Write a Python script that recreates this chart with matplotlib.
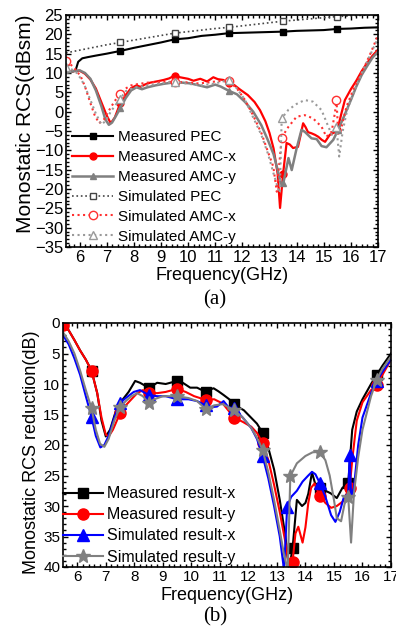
import numpy as np
import matplotlib
matplotlib.use('Agg')
import matplotlib.pyplot as plt
from matplotlib.ticker import MultipleLocator

plt.rcParams['font.family'] = ['Liberation Sans', 'DejaVu Sans']

# ---- DATA: (a) monostatic RCS (dBsm) ----
pec_meas_f = [5.5, 5.7, 5.85, 5.95, 6.1, 6.3, 6.6, 7.0, 7.5, 8.0, 8.5, 9.0, 9.5, 10.0, 10.5,
              11.0, 11.5, 12.0, 12.5, 13.0, 13.5, 14.0, 14.5, 15.0, 15.5, 16.0, 16.5, 17.0]
pec_meas_v = [10.2, 10.3, 10.6, 12.9, 13.8, 14.1, 14.5, 15.0, 15.7, 16.5, 17.2, 17.9, 18.7, 19.0, 19.6,
              19.9, 20.3, 20.4, 20.5, 20.6, 20.7, 20.9, 21.0, 21.1, 21.4, 21.5, 21.7, 21.8]
pec_meas_mk = [7.5, 9.5, 11.5, 13.5, 15.5]

amcx_meas_f = [5.5, 5.8, 6.0, 6.2, 6.4, 6.6, 6.8, 7.0, 7.15, 7.3, 7.5, 7.7, 7.9, 8.1, 8.25, 8.4, 8.6,
               8.9, 9.1, 9.3, 9.5, 9.7, 10.0, 10.2, 10.45, 10.7, 10.93, 11.1, 11.3, 11.5, 11.7, 11.9,
               12.2, 12.45, 12.65, 12.85, 13.0, 13.15, 13.3, 13.39, 13.5, 13.63, 13.75, 13.87, 14.05,
               14.15, 14.24, 14.33, 14.42, 14.55, 14.68, 14.8, 14.93, 15.05, 15.22, 15.35, 15.5, 15.65,
               15.78, 16.0, 16.2, 16.4, 16.6, 16.8, 17.0]
amcx_meas_v = [10.2, 10.5, 10.6, 9.8, 8.3, 6.0, 2.5, -1.0, -3.0, -1.5, 2.2, 4.3, 6.1, 6.8, 6.4, 7.0, 7.5,
               7.9, 8.2, 8.6, 9.3, 8.9, 8.5, 8.0, 8.5, 7.8, 8.9, 8.4, 8.2, 7.4, 6.9, 5.8,
               4.3, 2.5, 0.4, -2.5, -5.5, -9.5, -16.0, -24.9, -16.2, -8.1, -8.5, -9.4, -9.1,
               -6.0, -3.0, -4.0, -5.3, -5.6, -6.0, -6.5, -7.3, -7.8, -6.0, -5.5, -4.8, -0.5,
               3.0, 5.8, 8.0, 10.5, 12.6, 14.5, 16.0]
amcx_meas_mk = [7.5, 9.5, 11.5, 13.5, 15.5]

amcy_meas_f = [5.5, 5.8, 6.0, 6.2, 6.4, 6.6, 6.8, 6.95, 7.08, 7.2, 7.35, 7.5, 7.7, 7.9, 8.1, 8.3, 8.5,
               8.8, 9.1, 9.5, 9.8, 10.1, 10.4, 10.7, 11.0, 11.2, 11.5, 11.8, 12.1, 12.4, 12.7, 12.95,
               13.15, 13.3, 13.43, 13.51, 13.7, 13.82, 14.0, 14.18, 14.3, 14.55, 14.74, 14.92, 15.1,
               15.35, 15.53, 15.7, 15.85, 16.0, 16.2, 16.4, 16.6, 16.8, 17.0]
amcy_meas_v = [10.0, 10.5, 10.7, 10.0, 8.5, 5.5, 1.5, -2.0, -3.4, -2.8, -1.0, 0.9, 3.5, 5.5, 6.3, 5.8, 6.3,
               6.8, 7.2, 7.6, 7.5, 7.3, 6.8, 6.3, 7.0, 6.5, 5.4, 4.5, 2.5, 0.0, -3.5, -7.5,
               -11.0, -15.0, -19.0, -18.5, -12.0, -15.1, -9.5, -4.7, -5.2, -6.9, -7.1, -8.9, -9.2,
               -7.3, -4.7, -2.0, 0.5, 3.0, 6.5, 9.5, 11.8, 14.0, 15.5]
amcy_meas_mk = [7.5, 11.5, 13.51, 15.53]

pec_sim_f = [5.5, 6.0, 6.5, 7.0, 7.5, 8.0, 8.5, 9.0, 9.5, 10.0, 10.5, 11.0, 11.5, 12.0, 12.5, 13.0,
             13.5, 14.0, 14.5, 15.0, 15.5, 16.0, 16.5, 17.0]
pec_sim_v = [15.2, 15.9, 16.6, 17.3, 17.9, 18.5, 19.1, 19.7, 20.3, 20.7, 21.1, 21.5, 21.8, 22.2, 22.6, 23.0,
             23.4, 23.7, 24.0, 24.3, 24.6, 24.8, 24.95, 25.1]
pec_sim_mk = [7.5, 9.5, 11.5, 13.5, 15.5]

amcx_sim_f = [5.5, 5.7, 5.9, 6.05, 6.2, 6.4, 6.55, 6.72, 6.9, 7.1, 7.3, 7.5, 7.7, 7.9, 8.2, 8.5, 8.8,
              9.1, 9.5, 9.9, 10.3, 10.7, 11.1, 11.5, 11.8, 12.1, 12.4, 12.7, 12.95, 13.14, 13.27,
              13.45, 13.7, 14.0, 14.3, 14.6, 14.92, 15.1, 15.29, 15.41, 15.47, 15.53, 15.66, 15.84,
              16.08, 16.45, 16.75, 17.0]
amcx_sim_v = [13.0, 12.0, 10.5, 9.0, 6.5, 2.2, -0.8, -3.0, -2.0, 0.5, 2.8, 4.5, 6.0, 6.8, 7.2, 7.5, 7.7,
              7.7, 7.7, 7.6, 7.3, 7.5, 7.9, 7.9, 6.0, 3.0, -1.0, -5.5, -10.5, -14.2, -20.7,
              -6.7, -3.9, -1.3, -0.9, -1.7, -3.9, -6.5, -5.2, -0.4, 3.0, -5.2, -3.9, 1.3,
              5.6, 10.8, 15.5, 19.8]
amcx_sim_mk = [5.5, 7.5, 9.5, 11.5, 13.45, 15.47]

amcy_sim_f = [5.5, 5.7, 5.9, 6.05, 6.2, 6.4, 6.6, 6.8, 6.95, 7.15, 7.3, 7.5, 7.7, 8.0, 8.5, 9.0, 9.5,
              10.0, 10.5, 11.0, 11.5, 11.8, 12.1, 12.4, 12.7, 12.95, 13.15, 13.3, 13.38, 13.45, 13.7,
              14.0, 14.3, 14.6, 14.92, 15.17, 15.3, 15.47, 15.57, 15.7, 15.85, 16.1, 16.4, 16.7, 17.0]
amcy_sim_v = [11.5, 11.0, 10.0, 8.5, 6.5, 3.0, -0.5, -3.3, -2.5, 0.0, 1.5, 3.3, 5.3, 6.2, 6.8, 7.3, 7.8,
              7.2, 6.8, 7.3, 8.2, 6.0, 3.0, -1.5, -6.0, -11.0, -16.0, -19.5, -21.0, -1.7, 0.5,
              2.0, 3.0, 2.6, 0.4, -3.9, -6.0, -4.0, -11.6, -5.0, 0.0, 5.0, 10.0, 14.5, 19.0]
amcy_sim_mk = [5.5, 7.5, 9.5, 11.5, 13.45, 15.47]

# ---- DATA: (b) monostatic RCS reduction (dB) ----
redx_meas_f = [5.5, 5.7, 5.9, 6.1, 6.3, 6.5, 6.7, 6.85, 7.0, 7.15, 7.4, 7.6, 7.8, 8.03, 8.2, 8.35, 8.5,
               8.8, 9.1, 9.5, 9.7, 9.96, 10.2, 10.5, 10.6, 10.78, 10.95, 11.13, 11.3, 11.5, 11.65,
               11.84, 12.07, 12.3, 12.5, 12.7, 12.9, 13.1, 13.3, 13.42, 13.55, 13.7, 13.88, 14.0,
               14.1, 14.23, 14.35, 14.5, 14.7, 14.88, 15.1, 15.3, 15.5, 15.64, 15.8, 16.0, 16.3,
               16.5, 16.7, 17.0]
redx_meas_v = [0.2, 1.2, 2.8, 4.5, 6.0, 7.8, 11.5, 16.0, 18.6, 17.5, 13.7, 12.5, 11.3, 9.5, 9.8, 10.2, 10.7,
               9.8, 10.0, 9.5, 9.8, 10.6, 10.6, 11.3, 11.0, 10.7, 11.2, 11.8, 12.4, 13.2, 13.8,
               14.3, 15.4, 16.5, 18.0, 20.5, 24.0, 29.0, 35.0, 40.5, 36.9, 29.0, 30.0, 29.5,
               28.0, 24.5, 26.5, 27.0, 27.5, 27.9, 28.7, 27.0, 26.3, 17.5, 14.5, 12.5, 10.0,
               8.5, 7.0, 5.0]
redx_meas_mk = [5.5, 6.5, 8.5, 9.5, 10.5, 11.5, 12.5, 13.55, 14.5, 15.5, 16.5]

redy_meas_f = [5.5, 5.7, 5.9, 6.1, 6.3, 6.5, 6.7, 6.85, 7.0, 7.1, 7.25, 7.5, 7.7, 7.9, 8.1, 8.3, 8.5,
               8.8, 9.1, 9.5, 9.8, 10.1, 10.5, 10.8, 11.1, 11.5, 11.8, 12.1, 12.3, 12.5, 12.7, 12.9,
               13.1, 13.3, 13.45, 13.55, 13.65, 13.75, 13.9, 14.0, 14.1, 14.2, 14.32, 14.5, 14.7,
               14.9, 15.1, 15.3, 15.55, 15.65, 15.8, 16.0, 16.3, 16.5, 16.7, 17.0]
redy_meas_v = [0.3, 1.2, 2.8, 4.5, 6.0, 7.8, 11.5, 15.5, 18.3, 18.6, 17.5, 14.8, 13.5, 12.5, 11.5, 11.0, 11.4,
               11.5, 11.3, 10.8, 11.3, 12.0, 12.6, 12.5, 13.2, 15.5, 16.2, 17.0, 18.0, 19.7, 22.5, 26.5,
               31.0, 36.0, 40.5, 39.1, 34.5, 33.4, 36.0, 33.5, 29.5, 27.0, 26.3, 28.3, 29.5,
               30.3, 30.0, 29.3, 27.0, 22.0, 16.0, 13.0, 11.0, 10.2, 8.5, 6.0]
redy_meas_mk = [5.5, 6.5, 7.5, 8.5, 9.5, 10.5, 11.5, 12.5, 13.55, 14.5, 15.55, 16.5]

redx_sim_f = [5.5, 5.7, 5.9, 6.1, 6.3, 6.5, 6.65, 6.81, 6.95, 7.1, 7.3, 7.5, 7.7, 7.98, 8.2, 8.5, 8.8,
              9.1, 9.5, 9.9, 10.2, 10.5, 10.7, 10.9, 11.13, 11.3, 11.5, 11.8, 12.1, 12.3, 12.5, 12.7,
              12.9, 13.1, 13.25, 13.36, 13.5, 13.7, 13.9, 14.1, 14.23, 14.35, 14.5, 14.7, 14.9,
              15.05, 15.2, 15.35, 15.5, 15.55, 15.6, 15.7, 15.85, 16.0, 16.3, 16.5, 16.7, 17.0]
redx_sim_v = [2.0, 3.5, 5.8, 8.5, 12.0, 15.4, 18.5, 20.4, 20.0, 18.5, 15.5, 13.1, 12.3, 11.3, 11.0, 11.8, 12.0,
              12.0, 12.5, 12.5, 12.8, 13.5, 13.8, 13.7, 12.8, 13.8, 14.0, 15.5, 17.2, 19.0, 21.8, 25.5,
              30.0, 35.0, 40.5, 30.1, 28.5, 27.5, 26.0, 25.0, 24.4, 24.8, 26.2, 28.5, 31.5,
              32.6, 31.0, 28.5, 28.0, 21.6, 28.5, 27.0, 20.0, 15.5, 11.5, 9.5, 8.0, 6.0]
redx_sim_mk = [6.5, 7.5, 8.5, 9.5, 10.5, 11.5, 12.5, 13.36, 14.5, 15.55, 16.5]

redy_sim_f = [5.5, 5.7, 5.9, 6.1, 6.3, 6.5, 6.65, 6.8, 6.95, 7.1, 7.3, 7.5, 7.7, 7.9, 8.1, 8.3, 8.5,
              8.7, 9.0, 9.5, 9.9, 10.2, 10.5, 10.8, 11.1, 11.5, 11.8, 12.1, 12.3, 12.5, 12.7, 12.9,
              13.1, 13.25, 13.38, 13.47, 13.7, 14.0, 14.25, 14.5, 14.7, 14.85, 15.0, 15.1, 15.25,
              15.4, 15.5, 15.6, 15.7, 15.85, 16.0, 16.3, 16.5, 16.7, 17.0]
redy_sim_v = [1.5, 3.0, 5.0, 7.8, 11.0, 14.0, 17.5, 19.8, 20.3, 19.0, 16.0, 13.8, 12.8, 12.0, 11.5, 12.0, 13.1,
              12.5, 12.0, 12.0, 12.3, 12.8, 14.1, 13.5, 13.3, 14.3, 15.5, 17.2, 18.8, 20.8, 24.5, 29.0,
              34.0, 38.0, 40.5, 25.1, 23.0, 21.8, 21.2, 21.1, 22.5, 25.0, 29.0, 32.0, 32.5,
              29.0, 28.5, 36.0, 28.0, 22.0, 17.5, 12.0, 9.3, 7.5, 5.5]
redy_sim_mk = [6.5, 7.5, 8.5, 9.5, 10.5, 11.5, 12.5, 13.47, 14.5, 15.5, 16.5]


def marks(freqs, mk):
    return [i for i, f in enumerate(freqs) if f in mk]


def style_axis(ax, fs):
    ax.set_xlim(5.5, 17)
    ax.xaxis.set_major_locator(MultipleLocator(1))
    ax.xaxis.set_minor_locator(MultipleLocator(0.2))
    ax.yaxis.set_major_locator(MultipleLocator(5))
    ax.yaxis.set_minor_locator(MultipleLocator(1))
    ax.tick_params(which='both', direction='in', top=True, right=True, width=1, labelsize=fs, pad=2)
    ax.tick_params(which='major', length=3.5)
    ax.tick_params(which='minor', length=2)
    for s in ax.spines.values():
        s.set_linewidth(1.2)


fig = plt.figure(figsize=(3.96, 6.33), dpi=100)

# ---- (a) ----
ax1 = fig.add_axes([66 / 396, 1 - 247 / 633, 312 / 396, 232 / 633])
ax1.plot(pec_meas_f, pec_meas_v, '-s', color='black', lw=1.5, ms=5,
         markevery=marks(pec_meas_f, pec_meas_mk), label='Measured PEC')
ax1.plot(amcx_meas_f, amcx_meas_v, '-o', color='#ff0000', lw=1.6, ms=5,
         markevery=marks(amcx_meas_f, amcx_meas_mk), label='Measured AMC-x')
ax1.plot(amcy_meas_f, amcy_meas_v, '-^', color='#808080', lw=1.8, ms=5,
         markevery=marks(amcy_meas_f, amcy_meas_mk), label='Measured AMC-y')
ax1.plot(pec_sim_f, pec_sim_v, ':s', color='#444444', lw=1.2, ms=5, mfc='white',
         markevery=marks(pec_sim_f, pec_sim_mk), label='Simulated PEC')
ax1.plot(amcx_sim_f, amcx_sim_v, ':o', color='#ff3030', lw=1.5, ms=6, mfc='white',
         markevery=marks(amcx_sim_f, amcx_sim_mk), label='Simulated AMC-x')
ax1.plot(amcy_sim_f, amcy_sim_v, ':^', color='#9a9a9a', lw=1.5, ms=6, mfc='white',
         markevery=marks(amcy_sim_f, amcy_sim_mk), label='Simulated AMC-y')
style_axis(ax1, 12)
ax1.set_ylim(-35, 25)
ax1.set_xlabel('Frequency(GHz)', fontsize=13)
ax1.xaxis.set_label_coords(0.5, -0.085)
ax1.set_ylabel('Monostatic RCS(dBsm)', fontsize=15)
ax1.yaxis.set_label_coords(-0.1, 0.53)
ax1.legend(loc='lower left', bbox_to_anchor=(0.02, 0.015), frameon=False, fontsize=11,
           borderpad=0, borderaxespad=0, labelspacing=0.38, handlelength=2.7, handletextpad=0.3)
fig.text(215 / 396, 1 - 300 / 633, '(a)', family='Liberation Serif', fontsize=15,
         ha='center', va='center')

# ---- (b) ----
ax2 = fig.add_axes([63 / 396, 1 - 567 / 633, 328 / 396, 244 / 633])
ax2.plot(redx_meas_f, redx_meas_v, '-s', color='black', lw=1.5, ms=7,
         markevery=marks(redx_meas_f, redx_meas_mk), label='Measured result-x')
ax2.plot(redy_meas_f, redy_meas_v, '-o', color='#ff0000', lw=1.5, ms=8,
         markevery=marks(redy_meas_f, redy_meas_mk), label='Measured result-y')
ax2.plot(redx_sim_f, redx_sim_v, '-^', color='#0000ff', lw=1.5, ms=8,
         markevery=marks(redx_sim_f, redx_sim_mk), label='Simulated result-x')
ax2.plot(redy_sim_f, redy_sim_v, '-*', color='#808080', lw=1.5, ms=10,
         markevery=marks(redy_sim_f, redy_sim_mk), label='Simulated result-y')
style_axis(ax2, 11)
ax2.set_ylim(40, 0)
ax2.set_xlabel('Frequency(GHz)', fontsize=13)
ax2.xaxis.set_label_coords(0.5, -0.08)
ax2.set_ylabel('Monostatic RCS reduction(dB)', fontsize=13)
ax2.yaxis.set_label_coords(-0.07, 0.47)
ax2.legend(loc='lower left', bbox_to_anchor=(0.0, 0.01), frameon=False, fontsize=11.5,
           borderpad=0, borderaxespad=0, labelspacing=0.38, handlelength=2.5, handletextpad=0.25)
fig.text(215 / 396, 1 - 617 / 633, '(b)', family='Liberation Serif', fontsize=15,
         ha='center', va='center')

fig.savefig('out.png', dpi=100)
